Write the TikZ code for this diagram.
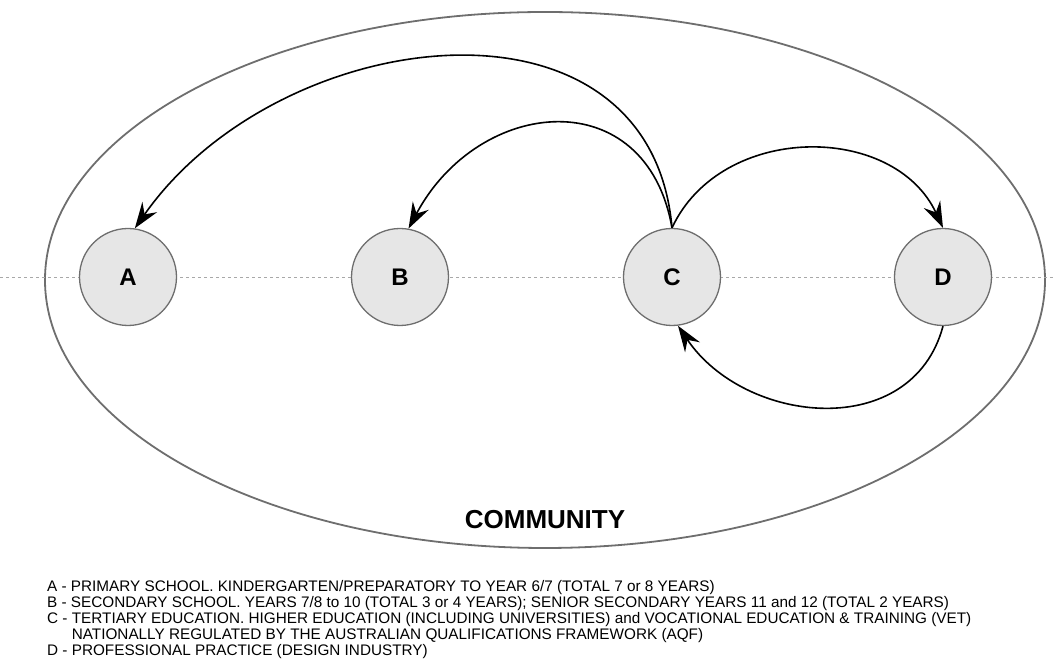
\documentclass[tikz,border=0pt]{standalone}
\usepackage{fontspec}
\setmainfont{Liberation Sans}
\usetikzlibrary{arrows.meta}
\definecolor{ringgray}{HTML}{6E6E6E}
\definecolor{nodefill}{HTML}{E6E6E6}
\definecolor{guidegray}{HTML}{A8A8A8}

\begin{document}
\begin{tikzpicture}[x=1pt, y=1pt,
    stage/.style={circle, draw=ringgray, fill=nodefill, line width=1.3pt,
      minimum size=97pt, inner sep=0pt, font=\fontsize{24}{24}\selectfont\bfseries},
    flow/.style={-{Stealth[length=26pt, width=18pt, inset=9pt]}, line width=1.6pt},
    keytext/.style={anchor=base west, inner sep=0pt, font=\fontsize{15.3}{16}\selectfont}]
  \useasboundingbox (0,0) rectangle (1053,663);

  % community ring and guide line
  \draw[ringgray, line width=1.8pt] (545,383) ellipse [x radius=500, y radius=268];
  \draw[guidegray, line width=0.8pt, dash pattern=on 3pt off 3pt] (0,386) -- (1053,386);
  \node[name=community, font=\fontsize{26}{26}\selectfont\bfseries] at (545,143) {COMMUNITY};

  % stages
  \node[stage, name=a] at (128,386) {A};
  \node[stage, name=b] at (400,386) {B};
  \node[stage, name=c] at (672,386) {C};
  \node[stage, name=d] at (943,386) {D};

  \path[flow]
     (c.north) edge[out=95, in=55, looseness=1.2] (a.82)
     (c.north) edge[out=100, in=62, looseness=1.45] (b.80)
     (c.north) edge[out=65, in=115, looseness=1.1] (d.north)
     (d.south) edge[out=-105, in=-56, looseness=1.16] (c.-83);

  % key
  \node[keytext, name=ka] at (47,71.6) {A - PRIMARY SCHOOL. KINDERGARTEN/PREPARATORY TO YEAR 6/7 (TOTAL 7 or 8 YEARS)};
  \node[keytext, name=kb] at (47,55.6) {B - SECONDARY SCHOOL. YEARS 7/8 to 10 (TOTAL 3 or 4 YEARS); SENIOR SECONDARY YEARS 11 and 12 (TOTAL 2 YEARS)};
  \node[keytext, name=kc] at (47,39.6) {C - TERTIARY EDUCATION. HIGHER EDUCATION (INCLUDING UNIVERSITIES) and VOCATIONAL EDUCATION \& TRAINING (VET)};
  \node[keytext, name=kc2] at (47,23.6) {\phantom{C - }NATIONALLY REGULATED BY THE AUSTRALIAN QUALIFICATIONS FRAMEWORK (AQF)};
  \node[keytext, name=kd] at (47,7.6) {D - PROFESSIONAL PRACTICE (DESIGN INDUSTRY)};
\end{tikzpicture}
\end{document}
